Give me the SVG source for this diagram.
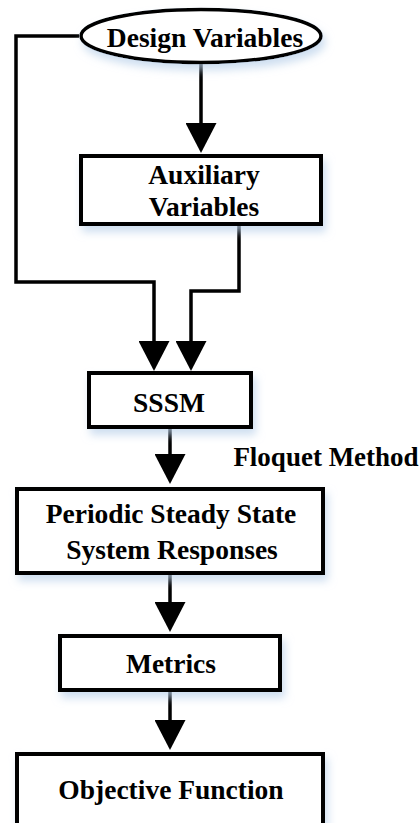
<svg xmlns="http://www.w3.org/2000/svg" width="420" height="823" viewBox="0 0 420 823">
<style>
.box{fill:#fff;stroke:#000;stroke-width:4;filter:url(#sh)}
.conn{fill:none;stroke:#000;stroke-width:3.5;marker-end:url(#ah)}
.t{font-family:'Liberation Serif','Times New Roman',serif;font-weight:bold;font-size:27.5px;fill:#000;text-anchor:middle}
</style>
<defs>
<filter id="sh" x="-20%" y="-30%" width="140%" height="170%">
<feDropShadow dx="3" dy="6" stdDeviation="4" flood-color="#b9d0ea" flood-opacity="0.7"/>
</filter>
<marker id="ah" markerUnits="userSpaceOnUse" markerWidth="30" markerHeight="31" viewBox="0 0 30 31" refX="20" refY="15.5" orient="auto">
<path d="M0,0 L30,15.5 L0,31 Z" fill="#000"/>
</marker>
</defs>
<g id="connectors">
<path class="conn" d="M201,64 V143"/>
<path class="conn" d="M79,36 H16 V282 H154 V361"/>
<path class="conn" d="M239,226 V291 H191 V361"/>
<path class="conn" d="M170,429 V474"/>
<path class="conn" d="M170,575 V622"/>
<path class="conn" d="M170,692 V740"/>
</g>
<g id="design-variables">
<ellipse class="box" cx="201" cy="36" rx="120" ry="26.5" style="stroke-width:3.5"/>
<text class="t" x="205" y="47">Design Variables</text>
</g>
<g id="auxiliary-variables">
<rect class="box" x="81" y="156" width="240" height="68"/>
<text class="t" x="204" y="184">Auxiliary</text>
<text class="t" x="204" y="216">Variables</text>
</g>
<g id="sssm">
<rect class="box" x="89" y="373" width="162" height="54"/>
<text class="t" x="169" y="412">SSSM</text>
</g>
<g id="floquet-label">
<text class="t" x="326" y="466" style="font-size:27px">Floquet Method</text>
</g>
<g id="periodic">
<rect class="box" x="17" y="489" width="306" height="84"/>
<text class="t" x="171" y="523">Periodic Steady State</text>
<text class="t" x="172" y="559">System Responses</text>
</g>
<g id="metrics">
<rect class="box" x="60" y="636" width="220" height="54"/>
<text class="t" x="171" y="673">Metrics</text>
</g>
<g id="objective">
<rect class="box" x="17" y="754" width="306" height="72"/>
<text class="t" x="171" y="799">Objective Function</text>
</g>
</svg>
